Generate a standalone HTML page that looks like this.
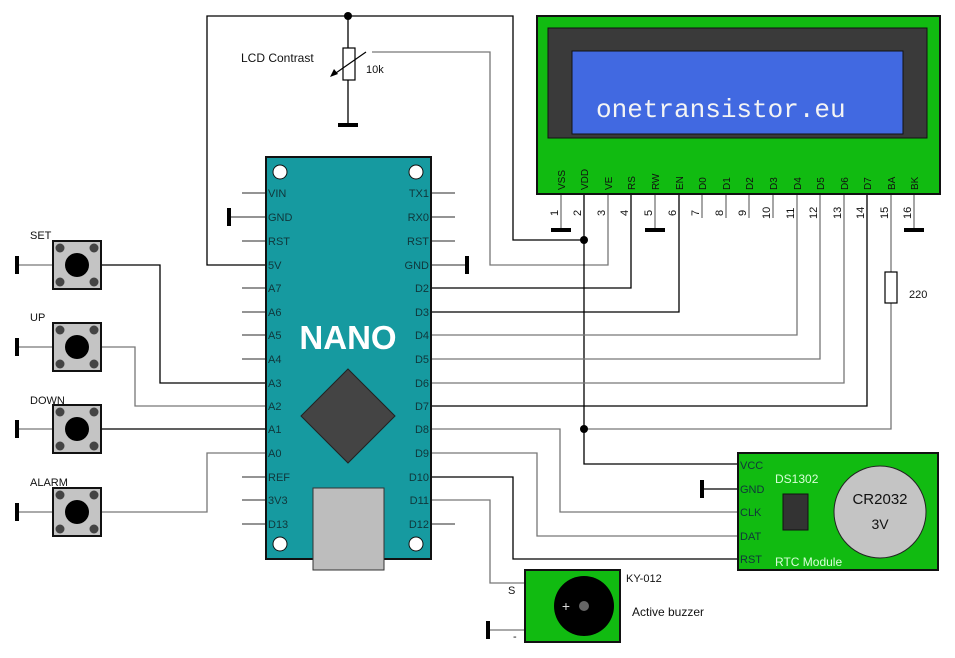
<!DOCTYPE html>
<html><head><meta charset="utf-8"><style>
body{margin:0;background:#fff;}
svg{display:block;font-family:"Liberation Sans",sans-serif;}
</style></head><body>
<svg width="955" height="658" viewBox="0 0 955 658" xmlns="http://www.w3.org/2000/svg">
<rect width="955" height="658" fill="#fff"/>
<g fill="none" stroke-width="1.3">
<!-- top 5V wire -->
<path d="M266 265 H207 V16 H513 V240 H584" stroke="#000"/>
<!-- pot -->
<path d="M348 16 V48 M348 80 V124" stroke="#000"/>
<path d="M372 52 H490 V265 H608 V194" stroke="#777"/>
<!-- VDD to RTC -->
<path d="M584 194 V464 H738" stroke="#000"/>
<path d="M584 429 H891 V303 M891 272 V194" stroke="#777"/>
<!-- D2..D7 -->
<path d="M431 288 H631 V194" stroke="#000"/>
<path d="M431 312 H679 V194" stroke="#000"/>
<path d="M431 335 H797 V194" stroke="#777"/>
<path d="M431 359 H820 V194" stroke="#777"/>
<path d="M431 383 H844 V194" stroke="#777"/>
<path d="M431 406 H867 V194" stroke="#000"/>
<!-- D8-D11 -->
<path d="M431 429 H560 V512 H738" stroke="#777"/>
<path d="M431 453 H537 V536 H738" stroke="#777"/>
<path d="M431 477 H513 V559 H738" stroke="#000"/>
<path d="M431 500 H490 V583 H525" stroke="#777"/>
<!-- RTC GND -->
<path d="M702 489 H738" stroke="#000"/>
<!-- buzzer gnd -->
<path d="M488 630 H525" stroke="#777"/>
<!-- LCD unconnected pins -->
<path d="M561 194 V230 M655 194 V230 M914 194 V230" stroke="#777"/>
<path d="M702 194 V218 M726 194 V218 M749 194 V218 M773 194 V218" stroke="#777"/>
<!-- buttons wires -->
<path d="M101 265 H160 V383 H266" stroke="#000"/>
<path d="M101 347 H135 V406 H266" stroke="#777"/>
<path d="M101 429 H266" stroke="#000"/>
<path d="M101 512 H207 V453 H266" stroke="#777"/>
<path d="M17 265 H53 M17 347 H53 M17 429 H53 M17 512 H53" stroke="#777"/>
<!-- nano pin stubs -->
<path d="M242 193 H266 M229 217 H266 M242 241 H266 M242 288 H266 M242 312 H266 M242 335 H266 M242 359 H266 M242 477 H266 M242 500 H266 M242 524 H266" stroke="#555"/>
<path d="M431 193 H455 M431 217 H455 M431 241 H455 M431 265 H467 M431 524 H455" stroke="#555"/>
</g>
<!-- ground bars -->
<g fill="#000">
<rect x="338" y="123" width="20" height="4"/>
<rect x="551" y="228" width="20" height="4"/>
<rect x="645" y="228" width="20" height="4"/>
<rect x="904" y="228" width="20" height="4"/>
<rect x="227" y="208" width="4" height="18"/>
<rect x="465" y="256" width="4" height="18"/>
<rect x="700" y="480" width="4" height="18"/>
<rect x="486" y="621" width="4" height="18"/>
<rect x="15" y="256" width="4" height="18"/>
<rect x="15" y="338" width="4" height="18"/>
<rect x="15" y="420" width="4" height="18"/>
<rect x="15" y="503" width="4" height="18"/>
<circle cx="348" cy="16" r="4"/>
<circle cx="584" cy="240" r="4"/>
<circle cx="584" cy="429" r="4"/>
</g>
<!-- pot -->
<rect x="343" y="48" width="12" height="32" fill="#fff" stroke="#000" stroke-width="1.2"/>
<path d="M366 52 L333 75" stroke="#000" stroke-width="1.2"/>
<path d="M330 77 L334 69 L338 74 Z" fill="#000"/>
<text x="241" y="62" font-size="12" fill="#111">LCD Contrast</text>
<text x="366" y="73" font-size="11" fill="#111">10k</text>
<!-- resistor 220 -->
<rect x="885" y="272" width="12" height="31" fill="#fff" stroke="#000" stroke-width="1.2"/>
<text x="909" y="298" font-size="11" fill="#111">220</text>
<!-- LCD -->
<rect x="537" y="16" width="403" height="178" fill="#11bb11" stroke="#111" stroke-width="2"/>
<rect x="548" y="28" width="379" height="110" fill="#3a3a3a" stroke="#111"/>
<rect x="572" y="51" width="331" height="83" fill="#4169e1" stroke="#111"/>
<text x="596" y="117" font-family="Liberation Mono,monospace" font-size="26" fill="#f4f4f4">onetransistor.eu</text>
<g font-size="10" fill="#111">
<g transform="translate(565,190) rotate(-90)"><text>VSS</text></g>
<g transform="translate(588,190) rotate(-90)"><text>VDD</text></g>
<g transform="translate(612,190) rotate(-90)"><text>VE</text></g>
<g transform="translate(635,190) rotate(-90)"><text>RS</text></g>
<g transform="translate(659,190) rotate(-90)"><text>RW</text></g>
<g transform="translate(683,190) rotate(-90)"><text>EN</text></g>
<g transform="translate(706,190) rotate(-90)"><text>D0</text></g>
<g transform="translate(730,190) rotate(-90)"><text>D1</text></g>
<g transform="translate(753,190) rotate(-90)"><text>D2</text></g>
<g transform="translate(777,190) rotate(-90)"><text>D3</text></g>
<g transform="translate(801,190) rotate(-90)"><text>D4</text></g>
<g transform="translate(824,190) rotate(-90)"><text>D5</text></g>
<g transform="translate(848,190) rotate(-90)"><text>D6</text></g>
<g transform="translate(871,190) rotate(-90)"><text>D7</text></g>
<g transform="translate(895,190) rotate(-90)"><text>BA</text></g>
<g transform="translate(918,190) rotate(-90)"><text>BK</text></g>
</g>
<g font-size="11" fill="#111">
<g transform="translate(558,216) rotate(-90)"><text>1</text></g>
<g transform="translate(581,216) rotate(-90)"><text>2</text></g>
<g transform="translate(605,216) rotate(-90)"><text>3</text></g>
<g transform="translate(628,216) rotate(-90)"><text>4</text></g>
<g transform="translate(652,216) rotate(-90)"><text>5</text></g>
<g transform="translate(676,216) rotate(-90)"><text>6</text></g>
<g transform="translate(699,216) rotate(-90)"><text>7</text></g>
<g transform="translate(723,216) rotate(-90)"><text>8</text></g>
<g transform="translate(746,216) rotate(-90)"><text>9</text></g>
<g transform="translate(770,219) rotate(-90)"><text>10</text></g>
<g transform="translate(794,219) rotate(-90)"><text>11</text></g>
<g transform="translate(817,219) rotate(-90)"><text>12</text></g>
<g transform="translate(841,219) rotate(-90)"><text>13</text></g>
<g transform="translate(864,219) rotate(-90)"><text>14</text></g>
<g transform="translate(888,219) rotate(-90)"><text>15</text></g>
<g transform="translate(911,219) rotate(-90)"><text>16</text></g>
</g>
<!-- NANO -->
<rect x="266" y="157" width="165" height="402" fill="#169aa0" stroke="#111" stroke-width="2"/>
<g fill="#fff" stroke="#111">
<circle cx="280" cy="172" r="7"/><circle cx="416" cy="172" r="7"/>
<circle cx="280" cy="544" r="7"/><circle cx="416" cy="544" r="7"/>
</g>
<path d="M348 369 L395 416 L348 463 L301 416 Z" fill="#444" stroke="#222"/>
<rect x="313" y="488" width="71" height="82" fill="#bdbdbd" stroke="#333"/>
<text x="348" y="349" font-size="33" font-weight="bold" fill="#fff" text-anchor="middle">NANO</text>
<g font-size="11" fill="#10363a">
<text x="268" y="197">VIN</text><text x="268" y="221">GND</text><text x="268" y="245">RST</text><text x="268" y="269">5V</text>
<text x="268" y="292">A7</text><text x="268" y="316">A6</text><text x="268" y="339">A5</text><text x="268" y="363">A4</text>
<text x="268" y="387">A3</text><text x="268" y="410">A2</text><text x="268" y="433">A1</text><text x="268" y="457">A0</text>
<text x="268" y="481">REF</text><text x="268" y="504">3V3</text><text x="268" y="528">D13</text>
</g>
<g font-size="11" fill="#10363a" text-anchor="end">
<text x="429" y="197">TX1</text><text x="429" y="221">RX0</text><text x="429" y="245">RST</text><text x="429" y="269">GND</text>
<text x="429" y="292">D2</text><text x="429" y="316">D3</text><text x="429" y="339">D4</text><text x="429" y="363">D5</text>
<text x="429" y="387">D6</text><text x="429" y="410">D7</text><text x="429" y="433">D8</text><text x="429" y="457">D9</text>
<text x="429" y="481">D10</text><text x="429" y="504">D11</text><text x="429" y="528">D12</text>
</g>
<!-- buttons -->
<g>
<text x="30" y="239" font-size="11" fill="#111">SET</text>
<text x="30" y="321" font-size="11" fill="#111">UP</text>
<text x="30" y="404" font-size="11" fill="#111">DOWN</text>
<text x="30" y="486" font-size="11" fill="#111">ALARM</text>
</g>
<g id="b1">
<rect x="53" y="241" width="48" height="48" fill="#c4c4c4" stroke="#111" stroke-width="2"/>
<circle cx="77" cy="265" r="12" fill="#000"/>
<circle cx="60" cy="248" r="4.5" fill="#444"/><circle cx="94" cy="248" r="4.5" fill="#444"/>
<circle cx="60" cy="282" r="4.5" fill="#444"/><circle cx="94" cy="282" r="4.5" fill="#444"/>
</g>
<use href="#b1" y="82"/>
<use href="#b1" y="164"/>
<use href="#b1" y="247"/>
<!-- RTC -->
<rect x="738" y="453" width="200" height="117" fill="#11bb11" stroke="#111" stroke-width="2"/>
<g font-size="11" fill="#10363a">
<text x="740" y="469">VCC</text><text x="740" y="493">GND</text><text x="740" y="516">CLK</text><text x="740" y="540">DAT</text><text x="740" y="563">RST</text>
</g>
<text x="775" y="483" font-size="12" fill="#d8ffd8">DS1302</text>
<text x="775" y="566" font-size="12" fill="#d8ffd8">RTC Module</text>
<rect x="783" y="494" width="25" height="36" fill="#333" stroke="#111"/>
<circle cx="880" cy="512" r="46" fill="#c4c4c4" stroke="#222"/>
<text x="880" y="504" font-size="15" fill="#111" text-anchor="middle">CR2032</text>
<text x="880" y="529" font-size="14" fill="#111" text-anchor="middle">3V</text>
<!-- buzzer -->
<rect x="525" y="570" width="95" height="72" fill="#11bb11" stroke="#111" stroke-width="2"/>
<circle cx="584" cy="606" r="30" fill="#000"/>
<circle cx="584" cy="606" r="5" fill="#666"/>
<text x="566" y="611" font-size="14" fill="#ddd" text-anchor="middle">+</text>
<text x="508" y="594" font-size="11" fill="#111">S</text>
<text x="513" y="640" font-size="11" fill="#111">-</text>
<text x="626" y="582" font-size="11" fill="#111">KY-012</text>
<text x="632" y="616" font-size="12" fill="#111">Active buzzer</text>
</svg>
</body></html>
